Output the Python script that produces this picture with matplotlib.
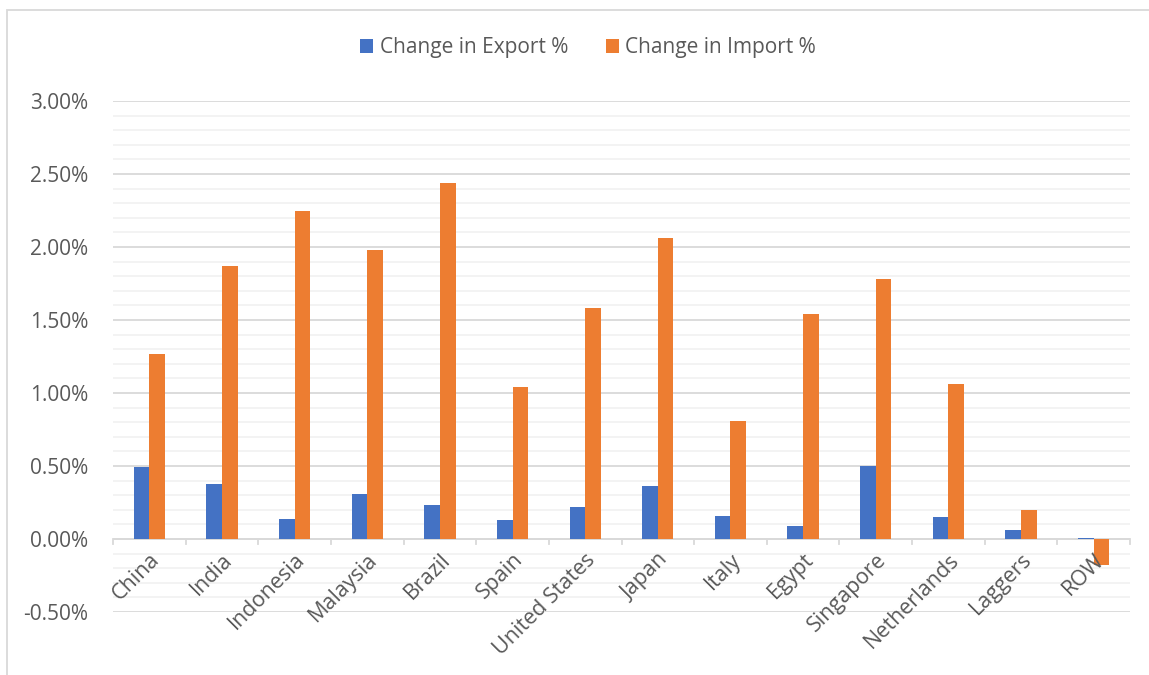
import numpy as np
import matplotlib.pyplot as plt
from matplotlib.patches import Rectangle
from matplotlib.ticker import MultipleLocator, FuncFormatter

plt.rcParams['font.family'] = ['Open Sans', 'DejaVu Sans']

countries = ['China', 'India', 'Indonesia', 'Malaysia', 'Brazil', 'Spain',
             'United States', 'Japan', 'Italy', 'Egypt', 'Singapore',
             'Netherlands', 'Laggers', 'ROW']
export_pct = [0.49, 0.38, 0.14, 0.31, 0.23, 0.13, 0.22, 0.36, 0.16, 0.09,
              0.50, 0.15, 0.06, 0.01]
import_pct = [1.27, 1.87, 2.25, 1.98, 2.44, 1.04, 1.58, 2.06, 0.81, 1.54,
              1.78, 1.06, 0.20, -0.18]

blue = '#4472C4'
orange = '#ED7D31'
grid_major = '#D9D9D9'
grid_minor = '#F2F2F2'
text_col = '#595959'

fig = plt.figure(figsize=(11.49, 6.75), dpi=100)
ax = fig.add_axes([113/1149, 63/675, (1130-113)/1149, (612-101)/675])

x = np.arange(len(countries))
w = 0.215
ax.bar(x - w/2, export_pct, w, color=blue, label='Change in Export %', zorder=3)
ax.bar(x + w/2, import_pct, w, color=orange, label='Change in Import %', zorder=3)

ax.set_xlim(-0.5, len(countries) - 0.5)
ax.set_ylim(-0.5, 3.0)
ax.yaxis.set_major_locator(MultipleLocator(0.5))
ax.yaxis.set_minor_locator(MultipleLocator(0.1))
ax.yaxis.set_major_formatter(FuncFormatter(lambda v, p: f'{v:.2f}%'))
ax.grid(axis='y', which='major', color=grid_major, lw=1.3, zorder=0)
ax.grid(axis='y', which='minor', color=grid_minor, lw=1.3, zorder=0)
ax.tick_params(axis='y', which='both', length=0, labelsize=15, labelcolor=text_col, pad=18)

for s in ax.spines.values():
    s.set_visible(False)

# zero axis line with category tick marks
ax.axhline(0, color=grid_major, lw=1.3, zorder=2)
for b in np.arange(-0.5, len(countries), 1.0):
    ax.plot([b, b], [0, -0.035], color=grid_major, lw=1.3, zorder=2, clip_on=False)

ax.set_xticks(x)
ax.set_xticklabels([])
ax.tick_params(axis='x', length=0)
for xi, name in zip(x, countries):
    ax.text(xi + 0.0, -0.07, name, rotation=45, ha='right', va='top',
            rotation_mode='anchor', fontsize=15.5, color=text_col)

fig.legend(*ax.get_legend_handles_labels(), loc='center',
           bbox_to_anchor=(588/1149, 1 - 48/675), ncol=2, frameon=False,
           fontsize=15, labelcolor=text_col, handlelength=0.65, handleheight=0.65,
           columnspacing=1.8, handletextpad=0.3)

fig.patches.append(Rectangle((7/1149, -0.1), 1.2, 1 - 10/675 + 0.1,
                             transform=fig.transFigure, fill=False,
                             edgecolor=grid_major, lw=1.3))

fig.savefig('out.png', dpi=100)
